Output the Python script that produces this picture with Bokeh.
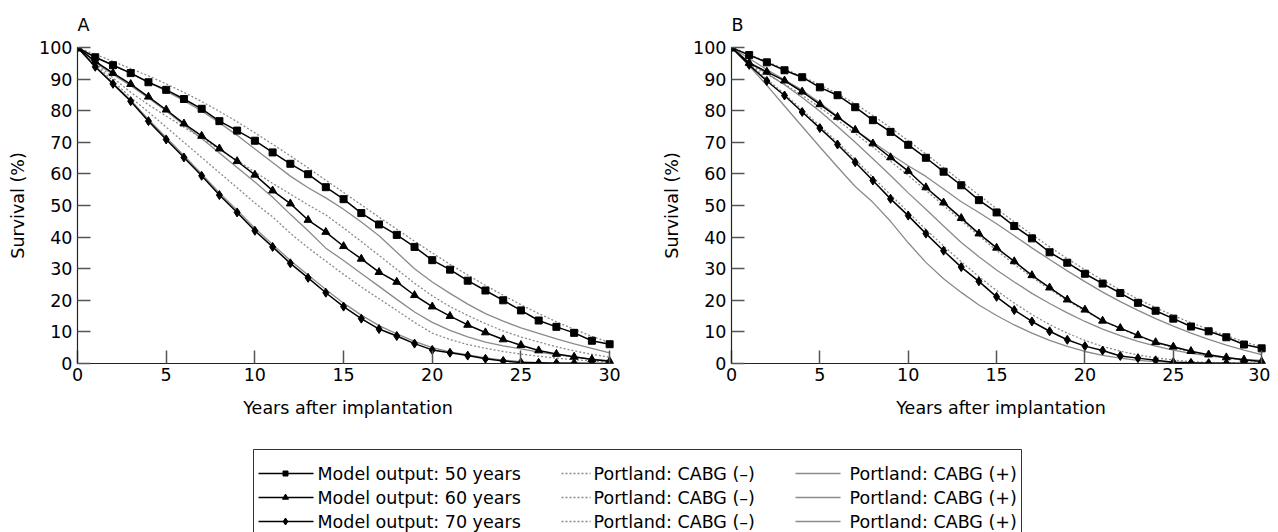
from bokeh.plotting import figure
from bokeh.layouts import column, row
from bokeh.models import Range1d, FixedTicker
from bokeh.core.properties import value
from bokeh.embed import file_html
from bokeh.resources import INLINE

# ---------------- data ----------------
years = list(range(31))
x_ticks = [0, 5, 10, 15, 20, 25, 30]
y_ticks = [0, 10, 20, 30, 40, 50, 60, 70, 80, 90, 100]

# Panel A
model50_A = [100, 96.9, 94.4, 91.9, 89.0, 86.6, 83.7, 80.6, 76.7, 73.7, 70.5, 66.8, 63.2, 59.9, 55.8, 52.0,
             47.6, 44.0, 40.7, 36.9, 32.7, 29.7, 26.2, 23.1, 20.0, 16.8, 13.6, 11.6, 9.7, 7.2, 6.1]
model60_A = [100, 95.6, 91.9, 88.4, 84.4, 80.3, 75.9, 72.0, 68.0, 64.0, 59.7, 54.7, 50.6, 45.4, 41.6, 37.1,
             33.1, 28.9, 25.8, 21.6, 18.0, 15.0, 12.2, 9.8, 7.6, 5.8, 4.1, 3.0, 2.1, 1.3, 0.7]
model70_A = [100, 93.9, 88.5, 83.0, 76.7, 70.9, 65.2, 59.4, 53.3, 47.8, 42.0, 36.9, 31.7, 27.1, 22.4, 18.0,
             14.2, 10.9, 8.7, 6.3, 4.3, 3.4, 2.5, 1.5, 0.8, 0.3, 0.2, 0.1, 0.1, 0.0, 0.0]
cabg_minus_A = [
    [100, 97.8, 95.6, 93.3, 91.0, 88.5, 85.8, 82.9, 79.8, 76.5, 73.0, 69.4, 65.7, 61.9, 58.0, 54.1,
     50.2, 46.3, 42.5, 38.7, 35.0, 31.4, 28.0, 24.7, 21.6, 18.6, 15.8, 13.2, 10.8, 8.6, 6.6],
    [100, 95.2, 90.4, 85.8, 81.9, 78.3, 74.8, 71.3, 67.8, 64.3, 60.6, 57.0, 53.6, 50.2, 47.0, 42.9,
     38.6, 34.2, 29.8, 25.4, 21.4, 18.0, 15.2, 12.6, 10.3, 8.4, 6.8, 5.3, 4.0, 2.9, 2.0],
    [100, 94.6, 89.4, 84.2, 79.6, 74.8, 70.0, 65.2, 60.4, 55.6, 50.8, 46.4, 41.2, 36.6, 32.4, 28.2,
     24.2, 20.5, 16.8, 13.0, 9.6, 7.6, 6.0, 4.8, 3.8, 3.0, 2.3, 1.7, 1.2, 0.8, 0.5],
]
cabg_plus_A = [
    [100, 97.0, 94.5, 91.8, 89.0, 86.2, 83.2, 79.9, 76.2, 72.2, 67.9, 63.6, 59.3, 55.6, 52.4, 48.8,
     44.8, 40.4, 35.2, 30.0, 25.8, 22.2, 18.8, 15.8, 13.4, 11.3, 9.5, 7.8, 6.2, 4.8, 3.4],
    [100, 95.3, 91.5, 87.9, 84.0, 79.9, 75.5, 71.2, 66.6, 62.0, 57.4, 52.6, 47.2, 42.0, 36.5, 32.6,
     28.5, 24.4, 20.3, 16.3, 13.0, 10.5, 8.4, 6.8, 5.6, 4.6, 3.6, 2.8, 2.0, 1.4, 0.9],
    [100, 94.0, 88.7, 83.3, 77.2, 71.5, 65.8, 60.0, 54.0, 48.5, 42.8, 37.7, 32.6, 28.0, 23.4, 19.1,
     15.3, 12.0, 9.4, 7.0, 5.0, 3.7, 2.7, 1.8, 1.1, 0.6, 0.3, 0.2, 0.1, 0.0, 0.0],
]

# Panel B
model50_B = [100, 97.6, 95.3, 92.8, 90.6, 87.4, 84.9, 81.1, 77.0, 73.3, 69.2, 65.1, 60.7, 56.4, 51.7, 47.8,
             43.5, 39.6, 35.2, 31.9, 28.4, 25.3, 22.3, 19.2, 16.7, 14.2, 11.7, 10.2, 8.3, 6.0, 4.8]
model60_B = [100, 95.1, 92.3, 89.5, 86.0, 82.0, 78.0, 73.9, 69.6, 65.2, 60.9, 55.7, 50.9, 46.0, 41.1, 36.6,
             32.3, 27.9, 24.0, 20.2, 17.0, 13.5, 11.2, 8.9, 6.7, 5.3, 3.9, 2.8, 1.9, 1.2, 0.6]
model70_B = [100, 94.5, 89.4, 84.8, 79.6, 74.5, 69.3, 63.7, 57.9, 52.1, 46.8, 41.1, 35.7, 30.5, 26.0, 21.1,
             16.9, 13.3, 10.2, 7.5, 5.5, 4.1, 2.4, 1.7, 1.0, 0.4, 0.2, 0.1, 0.1, 0.0, 0.0]
cabg_minus_B = [
    [100, 97.8, 95.5, 93.2, 90.8, 88.2, 85.4, 82.2, 78.5, 74.6, 70.5, 66.3, 62.0, 57.6, 53.3, 49.0,
     44.8, 40.8, 36.9, 33.2, 29.7, 26.4, 23.3, 20.4, 17.7, 15.2, 12.9, 10.8, 8.8, 6.9, 5.2],
    [100, 94.8, 91.5, 88.4, 84.9, 81.0, 77.0, 72.8, 68.5, 64.0, 59.5, 54.8, 50.0, 45.2, 40.4, 35.8,
     31.4, 27.3, 23.5, 19.9, 16.6, 13.6, 11.0, 8.7, 6.7, 5.0, 3.6, 2.5, 1.7, 1.0, 0.5],
    [100, 95.0, 90.0, 85.3, 80.3, 75.2, 70.0, 64.6, 59.0, 53.4, 47.9, 42.4, 37.2, 32.2, 27.5, 23.1,
     19.1, 15.5, 12.3, 9.6, 7.3, 5.4, 3.9, 2.7, 1.8, 1.1, 0.6, 0.3, 0.2, 0.1, 0.0],
]
cabg_plus_B = [
    [100, 96.5, 93.0, 89.8, 86.5, 82.5, 78.2, 74.0, 70.0, 66.2, 62.6, 59.2, 55.2, 51.2, 47.8, 44.2,
     40.4, 36.6, 32.9, 29.3, 25.9, 22.6, 19.6, 16.8, 14.2, 11.8, 9.6, 7.6, 5.8, 4.2, 2.8],
    [100, 95.3, 91.8, 88.2, 84.2, 79.8, 75.0, 70.0, 64.8, 59.5, 54.0, 48.8, 43.5, 38.3, 33.8, 29.6,
     25.8, 22.2, 19.0, 16.0, 13.3, 10.9, 8.8, 7.0, 5.5, 4.2, 3.2, 2.4, 1.8, 1.3, 1.0],
    [100, 94.2, 88.0, 81.5, 75.0, 68.5, 62.2, 56.0, 51.0, 45.0, 38.2, 32.0, 26.8, 22.5, 18.5, 15.2,
     12.2, 9.6, 7.3, 5.4, 3.8, 2.6, 1.7, 1.0, 0.6, 0.3, 0.2, 0.1, 0.1, 0.0, 0.0],
]

model_labels = ["Model output: 50 years", "Model output: 60 years", "Model output: 70 years"]
minus_labels = ["Portland: CABG (\u2013)", "Portland: CABG (\u2013)", "Portland: CABG (\u2013)"]
plus_labels = ["Portland: CABG (+)", "Portland: CABG (+)", "Portland: CABG (+)"]

# ---------------- style ----------------
FONT = "DejaVu Sans"
FS = "17.5px"
GRAY = "#8a8a8a"
DOT = "2 2"
MARKERS = ["square", "triangle", "diamond"]
MSIZES = [7, 8, 9]
LEG_MSIZES = [5, 6, 7]


def panel(letter, models, minus, plus, width, border_left, border_right):
    p = figure(width=width, height=440, x_range=Range1d(0, 30.5), y_range=Range1d(0, 100),
               output_backend="svg", toolbar_location=None,
               min_border_left=border_left, min_border_right=border_right,
               min_border_top=45, min_border_bottom=77)
    p.outline_line_color = None
    p.grid.visible = False

    p.title.text = letter
    p.title.align = "left"
    p.title.text_font = FONT
    p.title.text_font_size = FS
    p.title.text_font_style = "normal"
    p.title.text_color = "black"
    p.title.standoff = 25

    p.xaxis.ticker = FixedTicker(ticks=x_ticks)
    p.yaxis.ticker = FixedTicker(ticks=y_ticks)
    p.xaxis.bounds = (0, 30)
    for ax in (p.xaxis[0], p.yaxis[0]):
        ax.major_tick_in = 13
        ax.major_tick_out = 0
        ax.minor_tick_line_color = None
        ax.axis_line_color = "#222222"
        ax.axis_line_width = 1.2
        ax.major_tick_line_color = "#555555"
        ax.major_tick_line_width = 1.5
        ax.major_label_text_font = FONT
        ax.major_label_text_font_size = FS
        ax.major_label_text_color = "black"
        ax.axis_label_text_font = FONT
        ax.axis_label_text_font_size = FS
        ax.axis_label_text_font_style = "normal"
        ax.axis_label_text_color = "black"
    p.xaxis.axis_label = "Years after implantation"
    p.yaxis.axis_label = "Survival (%)"
    p.xaxis.major_label_standoff = 4
    p.yaxis.major_label_standoff = 5
    p.xaxis.axis_label_standoff = 14
    p.yaxis.axis_label_standoff = 8

    for arr in minus:
        p.line(years, arr, line_color=GRAY, line_width=1.3, line_dash=DOT)
    for arr in plus:
        p.line(years, arr, line_color=GRAY, line_width=1.3)
    for arr, mk, ms in zip(models, MARKERS, MSIZES):
        p.line(years, arr, line_color="black", line_width=1.5)
        p.scatter(years, arr, marker=mk, size=ms, fill_color="black", line_color="black")
    return p


pA = panel("A", [model50_A, model60_A, model70_A], cabg_minus_A, cabg_plus_A, 659, 77, 41)
pB = panel("B", [model50_B, model60_B, model70_B], cabg_minus_B, cabg_plus_B, 611, 69, 0)

# ---------------- legend (drawn in a pixel-space strip) ----------------
LW, LH = 1270, 92
lg = figure(width=LW, height=LH, x_range=Range1d(0, LW), y_range=Range1d(LH, 0),
            output_backend="svg", toolbar_location=None, min_border=0,
            x_axis_type=None, y_axis_type=None)
lg.outline_line_color = None
lg.grid.visible = False

box_l, box_r, box_t = 253, 1021, 9
lg.line([box_l, box_l, box_r, box_r], [LH, box_t, box_t, LH], line_color="#333333", line_width=1)

row_y = [33, 57, 81]
c1 = (258, 313, 285, 317)
c2 = (561, 590, 593)
c3 = (795, 840, 849)
for i, yy in enumerate(row_y):
    lg.line([c1[0], c1[1]], [yy, yy], line_color="black", line_width=1.4)
    lg.scatter([c1[2]], [yy], marker=MARKERS[i], size=LEG_MSIZES[i], fill_color="black", line_color="black")
    lg.line([c2[0], c2[1]], [yy, yy], line_color=GRAY, line_width=1.3, line_dash=DOT)
    lg.line([c3[0], c3[1]], [yy, yy], line_color=GRAY, line_width=1.3)

lg.text(x=[c1[3]] * 3, y=row_y, text=model_labels, text_font=value(FONT), text_font_size=FS,
        text_baseline="middle", text_align="left", text_color="black")
lg.text(x=[c2[2]] * 3, y=row_y, text=minus_labels, text_font=value(FONT), text_font_size=FS,
        text_baseline="middle", text_align="left", text_color="black")
lg.text(x=[c3[2]] * 3, y=row_y, text=plus_labels, text_font=value(FONT), text_font_size=FS,
        text_baseline="middle", text_align="left", text_color="black")

layout = column(row(pA, pB), lg)
open("out.html", "w").write(file_html(layout, INLINE, title="Survival"))
